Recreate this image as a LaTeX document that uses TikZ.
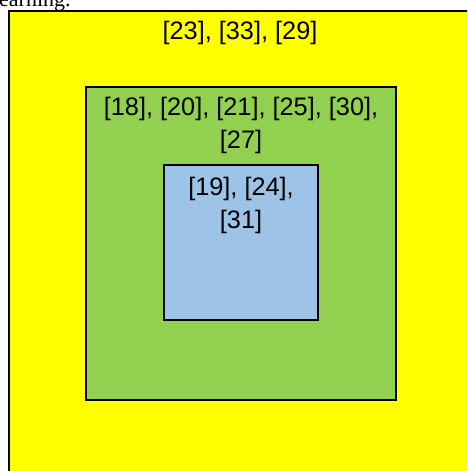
\documentclass[tikz,border=0pt]{standalone}
\usepackage{fontspec}
\usepackage{xcolor}
\usepackage{tikz}
\usetikzlibrary{positioning}
\newfontfamily\labfont{Liberation Sans}
\newfontfamily\capfont{Liberation Serif}
\definecolor{Outer}{HTML}{FFFF00}
\definecolor{Middle}{HTML}{92D050}
\definecolor{Inner}{HTML}{9DC3E6}
\tikzset{
  box/.style={draw=black,line width=2.2pt},
  lbl/.style={font=\labfont\fontsize{25.3}{33}\selectfont,align=center,inner sep=0pt}
}

\begin{document}
\begin{tikzpicture}[x=1pt,y=-1pt]
\useasboundingbox (0,0) rectangle (467,471);
\clip (0,0) rectangle (467,471);
\fill[white] (0,0) rectangle (467,471);
% nested layers
\draw[box,fill=Outer] (9,11) rectangle (490,490);
\draw[box,fill=Middle] (86,87) rectangle (396,400);
\draw[box,fill=Inner] (164,165) rectangle (318,320);
% cut caption line
\node[font=\capfont\fontsize{22}{26}\selectfont,anchor=base west,inner sep=0pt] (cap) at (-1,6) {earning.};
% labels
\node[lbl] (outerlbl) at (240,32.5) {[23], [33], [29]};
\node[lbl] (midlbl) at (241,125) {[18], [20], [21], [25], [30],\\{}[27]};
\node[lbl] (innerlbl) at (241,205) {[19], [24],\\{}[31]};
\end{tikzpicture}
\end{document}
